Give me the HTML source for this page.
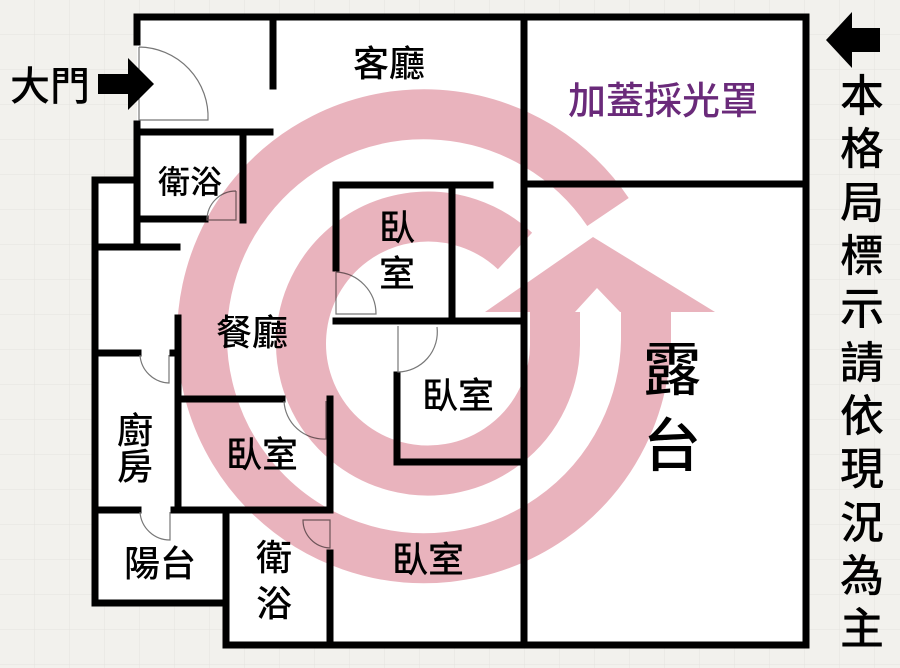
<!DOCTYPE html>
<html><head><meta charset="utf-8"><style>
body{margin:0;width:900px;height:668px;overflow:hidden;background:#f2f1ed}
svg{display:block}
text{font-family:"Liberation Sans","Noto Sans CJK TC",sans-serif;font-weight:500}
</style></head><body>
<svg width="900" height="668" viewBox="0 0 900 668" xmlns="http://www.w3.org/2000/svg">
<defs><pattern id="g" width="35" height="35" patternUnits="userSpaceOnUse"><rect width="35" height="35" fill="#f2f1ed"/><path d="M35 0V35H0" fill="none" stroke="#e4e3df" stroke-width="1"/></pattern></defs>
<rect width="900" height="668" fill="url(#g)"/>
<g fill="#fff">
<rect x="137" y="17" width="671" height="630"/>
<rect x="95" y="180" width="60" height="425"/>
</g>
<rect x="0" y="605" width="226" height="63" fill="url(#g)"/>
<rect x="0" y="247" width="95" height="360" fill="url(#g)"/>
<g stroke="#000" stroke-width="7" fill="none" stroke-linecap="square">
<path d="M137 17 H806 V645 H226 V512"/>
<path d="M137 17 V42"/>
<path d="M137 124 V245"/>
<path d="M273 17 V86"/>
<path d="M137 132 H270"/>
<path d="M243 136 V220"/>
<path d="M137 219 H205"/>
<path d="M95 180 H137"/>
<path d="M95 247 H177"/>
<path d="M95 180 V603 H226"/>
<path d="M524 17 V645"/>
<path d="M524 184 H806"/>
<path d="M336 185 H490"/>
<path d="M336 185 V268"/>
<path d="M452 185 V320"/>
<path d="M336 321 H524"/>
<path d="M397 375 V462 H524"/>
<path d="M178 318 V510"/>
<path d="M95 353 H138"/>
<path d="M173 353 H178"/>
<path d="M180 399 H282"/>
<path d="M330 399 V510"/>
<path d="M330 553 V645"/>
<path d="M95 510 H138"/>
<path d="M174 510 H330"/>
</g>
<g fill="none" stroke="#777" stroke-width="1.2">
<path d="M139 47 V120 H208 A70 70 0 0 0 139 47"/>
<path d="M236 191 V220 H207 A29 29 0 0 1 236 191"/>
<path d="M336 272 V314 H376 A42 42 0 0 0 336 272"/>
<path d="M398 326 V372 A40 40 0 0 0 437 327"/>
<path d="M140 355 A30 30 0 0 0 169 383 V355"/>
<path d="M284 401 A40 40 0 0 0 326 439 V401"/>
<path d="M140 512 A30 30 0 0 0 170 540 V512"/>
<path d="M330 520 V548 A28 28 0 0 1 303 520 Z"/>
</g>
<path d="M98 74 H128 V58 L154 84 L128 110 V94 H98 Z" fill="#000"/>
<path d="M880 28 H852 V12 L826 40 L852 68 V52 H880 Z" fill="#000"/>
<g fill="#000" font-size="36" text-anchor="middle">
<text x="50" y="100" font-size="40">大門</text>
<text x="389" y="76">客廳</text>
<text x="663" y="114" fill="#6a2a7a" font-size="38">加蓋採光罩</text>
<text x="190" y="193" font-size="32">衛浴</text>
<text x="397" y="240">臥</text>
<text x="397" y="286">室</text>
<text x="252" y="345">餐廳</text>
<text x="458" y="408">臥室</text>
<text x="135" y="443">廚</text>
<text x="135" y="479">房</text>
<text x="262" y="467">臥室</text>
<text x="160" y="576">陽台</text>
<text x="274" y="570">衛</text>
<text x="274" y="616">浴</text>
<text x="428" y="572">臥室</text>
<text x="672" y="390" font-size="58">露</text>
<text x="672" y="466" font-size="58">台</text>
</g>
<g fill="#000" font-size="44" text-anchor="middle">
<text x="862" y="111">本</text><text x="862" y="164">格</text><text x="862" y="218">局</text><text x="862" y="271">標</text><text x="862" y="324">示</text><text x="862" y="378">請</text><text x="862" y="431">依</text><text x="862" y="484">現</text><text x="862" y="538">況</text><text x="862" y="591">為</text><text x="862" y="644">主</text>
</g>
<g style="mix-blend-mode:multiply">
<g fill="none" stroke="#e9b3bd" stroke-width="50">
<path d="M 646 312 L 646 340 A 222 222 0 1 1 608 212"/>
<path d="M 555 312 L 555 345 A 127 127 0 1 1 515 251"/>
</g>
<path d="M485 312 L593 237 L715 312 L672 312 L620 312 L597 288 L575 312 L537 312 Z" fill="#e9b3bd"/>
</g>
</svg>
</body></html>
